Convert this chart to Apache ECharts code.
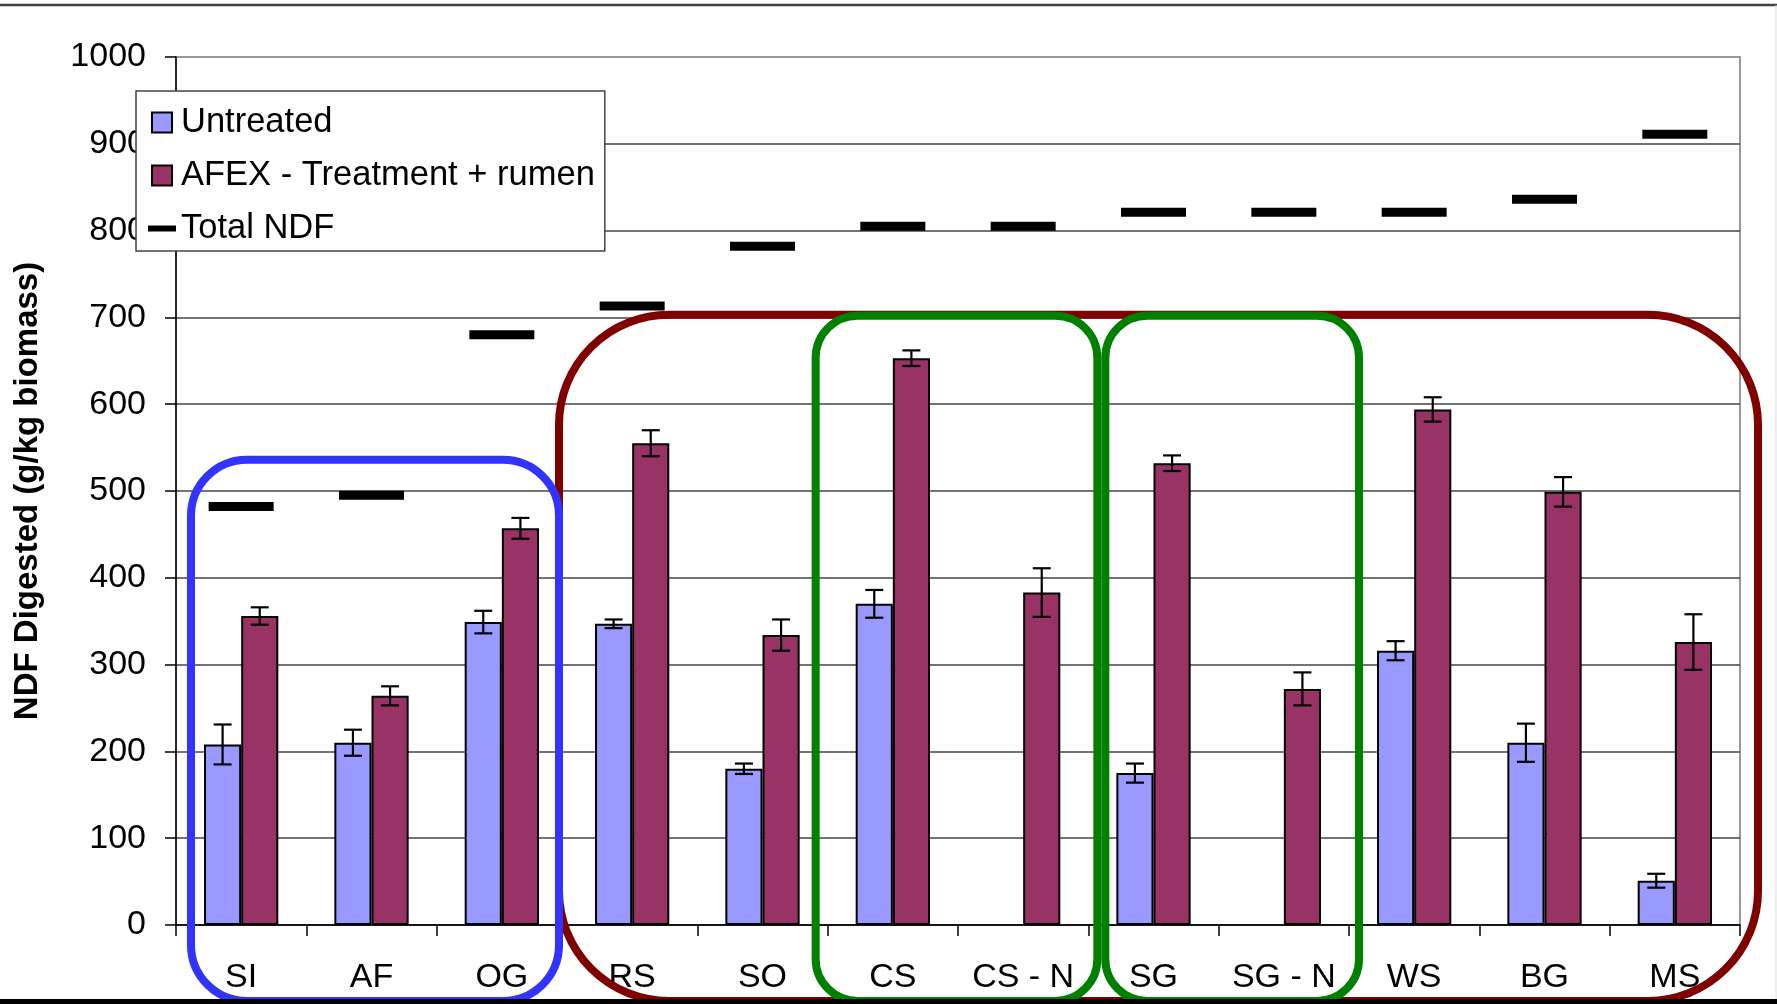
<!DOCTYPE html>
<html>
<head>
<meta charset="utf-8">
<script src="https://cdn.jsdelivr.net/npm/echarts@6/dist/echarts.min.js"></script>
<style>
  html, body { margin: 0; padding: 0; background: #fff; }
  #chart { width: 1777px; height: 1004px; }
</style>
</head>
<body>
<div id="chart"></div>
<script>
// values
const categories = ['SI', 'AF', 'OG', 'RS', 'SO', 'CS', 'CS - N', 'SG', 'SG - N', 'WS', 'BG', 'MS']
const untreated = [208, 210, 349, 347, 180, 370, null, 175, null, 316, 210, 51]
const untreatedErr = [23, 15, 13, 5, 6, 16, null, 11, null, 11, 22, 8]
const afex = [356, 264, 457, 555, 334, 653, 383, 532, 272, 594, 499, 326]
const afexErr = [10, 11, 12, 15, 18, 9, 28, 9, 19, 14, 17, 32]
const totalNdf = [482, 495, 680, 713, 782, 805, 805, 821, 821, 821, 836, 911]

const FONT = "'Liberation Sans', Arial, sans-serif"
const GAP = 0.43  // barCategoryGap

function errData(vals, errs) {
  let out = []
  vals.forEach(function (v, i) {
    if (v == null || errs[i] == null) return
    out.push([i, v - errs[i], v + errs[i]])
  })
  return out
}

function errRender(sign) {
  return function (params, api) {
    let i = api.value(0)
    let lo = api.coord([i, api.value(1)])
    let hi = api.coord([i, api.value(2)])
    let band = api.size([1, 0])[0]
    let x = lo[0] + sign * band * (1 - GAP) / 4
    let cap = 9
    let st = { stroke: '#000', lineWidth: 2.2 }
    return {
      type: 'group',
      children: [
        { type: 'line', shape: { x1: x, y1: hi[1], x2: x, y2: lo[1] }, style: st },
        { type: 'line', shape: { x1: x - cap, y1: hi[1], x2: x + cap, y2: hi[1] }, style: st },
        { type: 'line', shape: { x1: x - cap, y1: lo[1], x2: x + cap, y2: lo[1] }, style: st }
      ]
    }
  }
}

let chart = echarts.init(document.getElementById('chart'))

// top gridline (1000) is the lighter plot-area border
let gridColors = ['#444', '#444', '#444', '#444', '#444', '#444', '#444', '#444', '#444', '#444', '#999']

chart.setOption({
  animation: false,
  backgroundColor: '#fff',
  textStyle: { fontFamily: FONT, color: '#000' },
  grid: {
    left: 176, right: 37, top: 57, bottom: 79,
    show: true, borderColor: '#999', borderWidth: 2, backgroundColor: 'transparent'
  },
  legend: {
    orient: 'vertical',
    left: 136,
    top: 91,
    padding: [14, 10, 5, 12],
    itemWidth: 28,
    itemHeight: 20,
    itemGap: 18,
    backgroundColor: '#fff',
    borderColor: '#444',
    borderWidth: 1.5,
    symbolKeepAspect: true,
    textStyle: { fontSize: 34.5, fontFamily: FONT, color: '#000', lineHeight: 34 },
    data: [
      { name: 'Untreated', icon: 'path://M0,0H10V10H0Z' },
      { name: 'AFEX - Treatment + rumen', icon: 'path://M0,0H10V10H0Z' },
      { name: 'Total NDF', icon: 'path://M0,0H28V6H0Z' }
    ]
  },
  xAxis: {
    type: 'category',
    data: categories,
    axisLine: { lineStyle: { color: '#000', width: 1.5 } },
    axisTick: { show: true, interval: 0, length: 11, lineStyle: { color: '#000', width: 1.5 } },
    axisLabel: { interval: 0, fontSize: 34, color: '#000', margin: 36, fontFamily: FONT },
    splitLine: { show: false }
  },
  yAxis: {
    type: 'value',
    min: 0,
    max: 1000,
    interval: 100,
    name: 'NDF Digested (g/kg biomass)',
    nameLocation: 'middle',
    nameRotate: 90,
    nameGap: 132,
    nameTextStyle: { fontSize: 33, fontWeight: 'bold', color: '#000', fontFamily: FONT },
    axisLine: { show: true, lineStyle: { color: '#000', width: 1.5 } },
    axisTick: { show: true, length: 11, lineStyle: { color: '#000', width: 1.5 } },
    axisLabel: {
      fontSize: 34, color: '#000', margin: 30, fontFamily: FONT,
      formatter: function (v) { return String(v) }
    },
    splitLine: { show: true, lineStyle: { color: gridColors, width: 1.5 } }
  },
  series: [
    {
      name: 'Untreated',
      type: 'bar',
      data: untreated,
      barGap: '0%',
      barCategoryGap: (GAP * 100) + '%',
      itemStyle: { color: '#9999FF', borderColor: '#000', borderWidth: 2 }
    },
    {
      name: 'AFEX - Treatment + rumen',
      type: 'bar',
      data: afex,
      itemStyle: { color: '#993366', borderColor: '#000', borderWidth: 2 }
    },
    {
      name: 'Total NDF',
      type: 'scatter',
      data: totalNdf,
      symbol: 'rect',
      symbolSize: [65, 9],
      itemStyle: { color: '#000', opacity: 1 },
      z: 3
    },
    {
      name: 'untreatedErr',
      type: 'custom',
      data: errData(untreated, untreatedErr),
      renderItem: errRender(-1),
      encode: { x: 0, y: [1, 2] },
      z: 4
    },
    {
      name: 'afexErr',
      type: 'custom',
      data: errData(afex, afexErr),
      renderItem: errRender(1),
      encode: { x: 0, y: [1, 2] },
      z: 4
    }
  ]
})

// rounded boxes grouping the categories, placed from the axes
function boxes() {
  let c0 = chart.convertToPixel({ xAxisIndex: 0 }, 0)
  let band = chart.convertToPixel({ xAxisIndex: 0 }, 1) - c0
  let edge = function (k) { return c0 - band / 2 + k * band }
  let yv = function (v) { return chart.convertToPixel({ yAxisIndex: 0 }, v) }
  let bottom = yv(0) + 76
  let defs = [
    { from: 3, to: 12, l: -8, r: 18, top: 703, color: '#800000', rad: 110 },
    { from: 0, to: 3, l: 15, r: -8, top: 536, color: '#3333FF', rad: 56 },
    { from: 5, to: 7, l: -12, r: 9, top: 702, color: '#008000', rad: 42 },
    { from: 7, to: 9, l: 17, r: 10, top: 702, color: '#008000', rad: 42 }
  ]
  let els = defs.map(function (d) {
    let x1 = edge(d.from) + d.l
    let x2 = edge(d.to) + d.r
    let y1 = yv(d.top)
    return {
      type: 'rect',
      shape: { x: x1, y: y1, width: x2 - x1, height: bottom - y1, r: d.rad },
      style: { fill: 'none', stroke: d.color, lineWidth: 8 },
      z: 100
    }
  })
  // frame lines of the picture
  els.push({ type: 'line', shape: { x1: 0, y1: 5, x2: 1777, y2: 5 }, style: { stroke: '#404040', lineWidth: 2.5 }, z: 101 })
  els.push({ type: 'line', shape: { x1: 1776, y1: 5, x2: 1776, y2: 1000 }, style: { stroke: '#ddd', lineWidth: 1 }, z: 101 })
  els.push({ type: 'rect', shape: { x: 0, y: 999, width: 1777, height: 5 }, style: { fill: '#000' }, z: 101 })
  chart.setOption({ graphic: els })
}
boxes()
</script>
</body>
</html>
